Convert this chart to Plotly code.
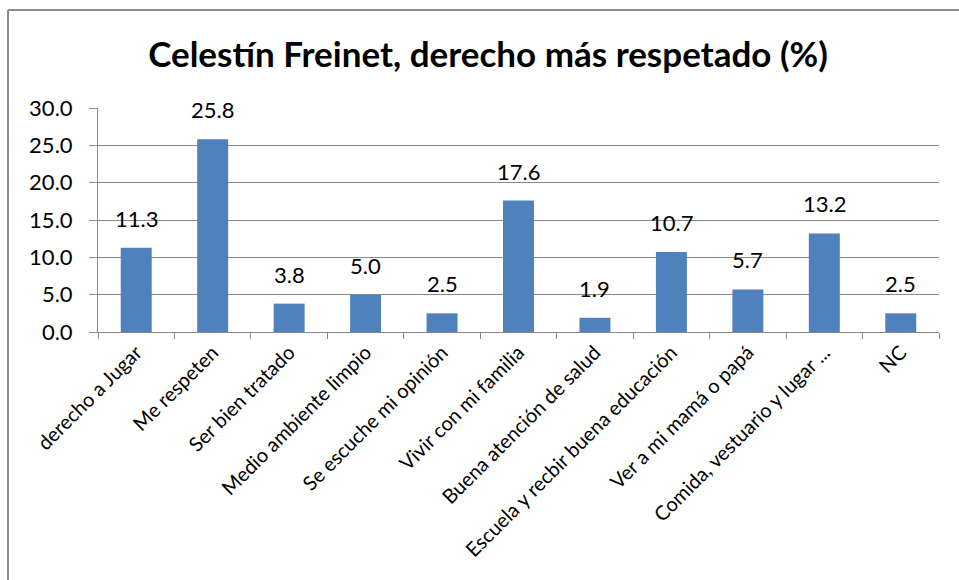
import plotly.graph_objects as go

categories = ["derecho a Jugar", "Me respeten", "Ser bien tratado", "Medio ambiente limpio",
              "Se escuche mi opinión", "Vivir con mi familia", "Buena atención de salud",
              "Escuela y recbir buena educación", "Ver a mi mamá o papá",
              "Comida, vestuario y lugar ...", "NC"]
values = [11.3, 25.8, 3.8, 5.0, 2.5, 17.6, 1.9, 10.7, 5.7, 13.2, 2.5]
y_ticks = [0, 5, 10, 15, 20, 25, 30]
title_text = "Celestín Freinet, derecho más respetado (%)"

W, H = 959, 580
L, R, T, B = 98, 20, 108, 248
pw, ph = W - L - R, H - T - B

grid = "#8a8a8a"
font = "Lato"

fig = go.Figure(go.Bar(x=categories, y=values, marker_color="#4F81BD",
                       marker_line_width=0, hoverinfo="skip"))

for c, v in zip(categories, values):
    fig.add_annotation(x=c, y=v, text=f"{v:.1f}", showarrow=False, yanchor="bottom",
                       yshift=14, font=dict(family=font, size=22, color="#000"))

bx = (8 - L) / pw
by = 1 + (T - 10) / ph
ex = (W + 2 - L) / pw
fig.add_shape(type="line", xref="paper", yref="paper", x0=bx, x1=bx, y0=-(B + 5) / ph, y1=by,
              line=dict(color="#8c8c8c", width=2))
fig.add_shape(type="line", xref="paper", yref="paper", x0=bx, x1=ex, y0=by, y1=by,
              line=dict(color="#8c8c8c", width=2))

fig.update_layout(
    width=W, height=H, margin=dict(l=L, r=R, t=T, b=B),
    plot_bgcolor="white", paper_bgcolor="white",
    bargap=0.595, showlegend=False,
    title=dict(text=f"<b>{title_text}</b>", x=488 / W, xanchor="center",
               y=1 - 55 / H, yanchor="middle", yref="container",
               font=dict(family=font, size=35, color="#000")),
    font=dict(family=font, color="#000"),
)
fig.update_yaxes(range=[0, 30], tickvals=y_ticks, tickformat=".1f",
                 showgrid=True, gridcolor=grid, gridwidth=1,
                 showline=True, linecolor=grid, linewidth=1,
                 ticks="outside", ticklen=8, tickcolor=grid, ticklabelstandoff=12,
                 tickfont=dict(family=font, size=22, color="#000"),
                 zeroline=False, fixedrange=True)
fig.update_xaxes(showline=True, linecolor=grid, linewidth=1,
                 ticks="outside", ticklen=6, tickcolor=grid, tickson="boundaries",
                 tickangle=-45, tickfont=dict(family=font, size=20, color="#000"),
                 fixedrange=True)

fig.write_html("out.html", config={"displayModeBar": False},
               post_script="document.body.style.margin='0';document.body.style.overflow='hidden';")
